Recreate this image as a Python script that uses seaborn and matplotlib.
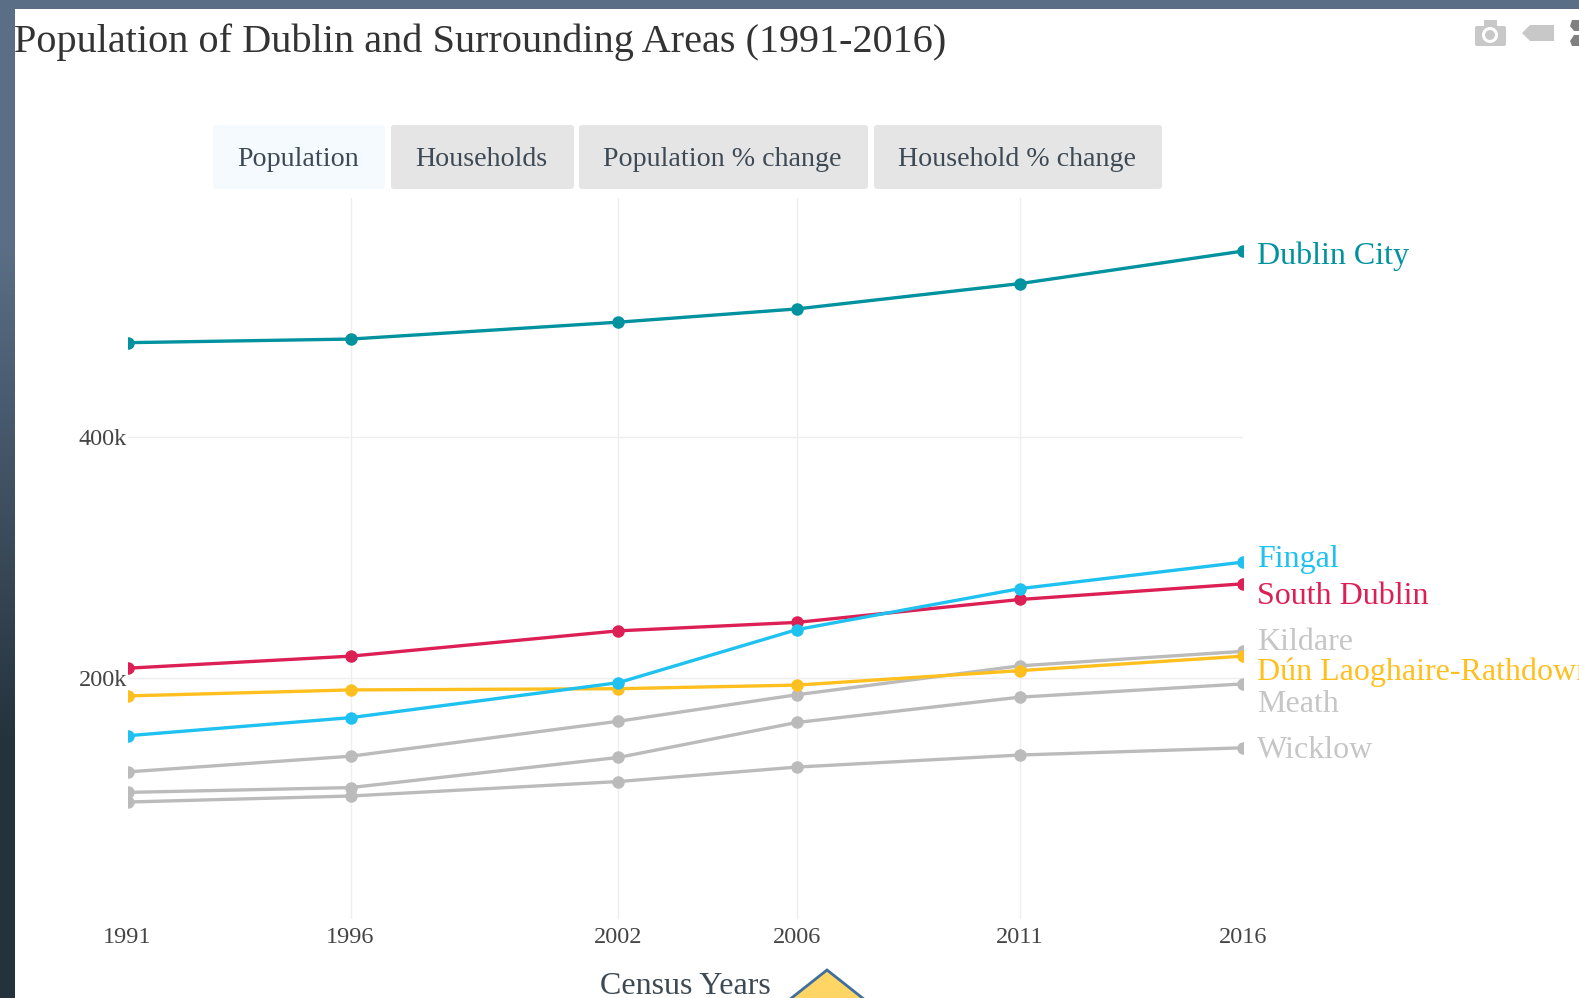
import pandas as pd
import numpy as np
import matplotlib
matplotlib.use('Agg')
import matplotlib.pyplot as plt
from matplotlib.patches import FancyBboxPatch, Polygon, Rectangle, Circle
import seaborn as sns

# data
years = [1991, 1996, 2002, 2006, 2011, 2016]
dublin_city = [478000, 481000, 495000, 506000, 527000, 554000]
fingal = [152000, 167000, 196000, 240000, 274000, 296000]
south_dublin = [208000, 218000, 239000, 246000, 265000, 278000]
dun_laoghaire = [185000, 190000, 191000, 194000, 206000, 218000]
kildare = [122000, 135000, 164000, 186000, 210000, 222000]
meath = [105000, 109000, 134000, 163000, 184000, 195000]
wicklow = [97000, 102000, 114000, 126000, 136000, 142000]

series = {
    'Wicklow': wicklow,
    'Meath': meath,
    'Kildare': kildare,
    'Dún Laoghaire-Rathdown': dun_laoghaire,
    'South Dublin': south_dublin,
    'Fingal': fingal,
    'Dublin City': dublin_city,
}
palette = {
    'Wicklow': '#bbbbbb',
    'Meath': '#bbbbbb',
    'Kildare': '#bbbbbb',
    'Dún Laoghaire-Rathdown': '#ffc01f',
    'South Dublin': '#dc1f54',
    'Fingal': '#1fc1f0',
    'Dublin City': '#00929f',
}
label_colors = dict(palette, Wicklow='#c6c6c6', Meath='#c6c6c6', Kildare='#c6c6c6')
# label centre heights in pixels from the top of the image
label_y = {
    'Dublin City': 256,
    'Fingal': 560,
    'South Dublin': 596,
    'Kildare': 643,
    'Dún Laoghaire-Rathdown': 672,
    'Meath': 704,
    'Wicklow': 750,
}
tabs = ['Population', 'Households', 'Population % change', 'Household % change']
tab_left = [213, 391, 579, 874]
tab_right = [385, 574, 868, 1162]

df = pd.DataFrame([
    {'year': y, 'area': name, 'pop': v}
    for name, vals in series.items()
    for y, v in zip(years, vals)
])

W, H = 1579, 998
sns.set_theme(style='white')
plt.rcParams['font.family'] = ['Liberation Serif', 'DejaVu Serif']
fig = plt.figure(figsize=(W / 100, H / 100), dpi=100)

# page layer in pixel coordinates, y going down
bg = fig.add_axes([0, 0, 1, 1], zorder=0)
bg.set_xlim(0, W)
bg.set_ylim(H, 0)
bg.axis('off')
grad = np.array([[0.0], [1.0]])
cmap = matplotlib.colors.LinearSegmentedColormap.from_list('page', ['#5a6e85', '#24323d'])
bg.imshow(grad, cmap=cmap, extent=(0, W, H, 0), aspect='auto', interpolation='bilinear')
bg.set_xlim(0, W)
bg.set_ylim(H, 0)
bg.add_patch(Rectangle((15, 9), W - 15, H - 9, fc='white', ec='none'))

# tabs
for i, (t, l, r) in enumerate(zip(tabs, tab_left, tab_right)):
    fc = '#f5faff' if i == 0 else '#e5e5e5'
    bg.add_patch(FancyBboxPatch((l + 2, 127), r - l - 4, 60,
                                boxstyle='round,pad=2,rounding_size=3', fc=fc, ec='none'))
    bg.text((l + r) / 2 - 1, 159, t, fontsize=20.2, color='#3d4a55', ha='center', va='center')

# modebar icons
bg.add_patch(FancyBboxPatch((1475, 26), 31, 20, boxstyle='round,pad=0,rounding_size=2', fc='#c8c8c8', ec='none'))
bg.add_patch(Rectangle((1484, 20), 13, 8, fc='#c8c8c8', ec='none'))
bg.add_patch(Circle((1490, 35), 6.5, fc='#c8c8c8', ec='white', lw=2.2))
bg.add_patch(Polygon([(1522, 33), (1530, 25), (1554, 25), (1554, 41), (1530, 41)], fc='#c8c8c8', ec='none'))
bg.add_patch(Polygon([(1579, 20), (1572, 20), (1570, 26), (1574, 31), (1579, 31)], fc='#808080', ec='none'))
bg.add_patch(Polygon([(1579, 35), (1574, 35), (1570, 41), (1572, 46), (1579, 46)], fc='#808080', ec='none'))

# bottom arrow
bg.add_patch(Polygon([(827, 970), (789, 1000), (865, 1000)], fc='#ffd666', ec='#3f6f9f', lw=2))

bg.text(14.5, 42, 'Population of Dublin and Surrounding Areas (1991-2016)',
        fontsize=29.0, color='#333333', ha='left', va='center')
bg.text(685, 986, 'Census Years', fontsize=23, color='#3d4a55', ha='center', va='center')

# chart
px_left, px_right, px_top, px_bottom = 127.5, 1243, 198, 919
ax = fig.add_axes([px_left / W, 1 - px_bottom / H, (px_right - px_left) / W, (px_bottom - px_top) / H],
                  zorder=1)
ax.patch.set_alpha(0)
sns.lineplot(data=df, x='year', y='pop', hue='area', hue_order=list(series), palette=palette,
             marker='o', markersize=9, markeredgewidth=0, linewidth=2.4, legend=False,
             errorbar=None, sort=False, ax=ax)
ax.set_xlim(1991, 2016)
ax.set_ylim(0, 598000)
ax.set_xticks(years)
ax.set_xticklabels([str(y) for y in years])
ax.set_yticks([200000, 400000])
ax.set_yticklabels(['200k', '400k'])
ax.tick_params(axis='both', length=0, labelsize=17.5, labelcolor='#444444')
ax.tick_params(axis='x', pad=6)
ax.tick_params(axis='y', pad=0.5)
ax.grid(True, color='#eeeeee', linewidth=1.0)
ax.set_axisbelow(True)
# no vertical gridline at either end of the range
gl = ax.xaxis.get_gridlines()
gl[0].set_visible(False)
gl[-1].set_visible(False)
ax.set_xlabel('')
ax.set_ylabel('')
sns.despine(ax=ax, left=True, bottom=True)

# direct labels
for name, y in label_y.items():
    bg.text(1257, y, name, fontsize=23, color=label_colors[name], ha='left', va='center', clip_on=True)

fig.savefig('out.png', dpi=100)
